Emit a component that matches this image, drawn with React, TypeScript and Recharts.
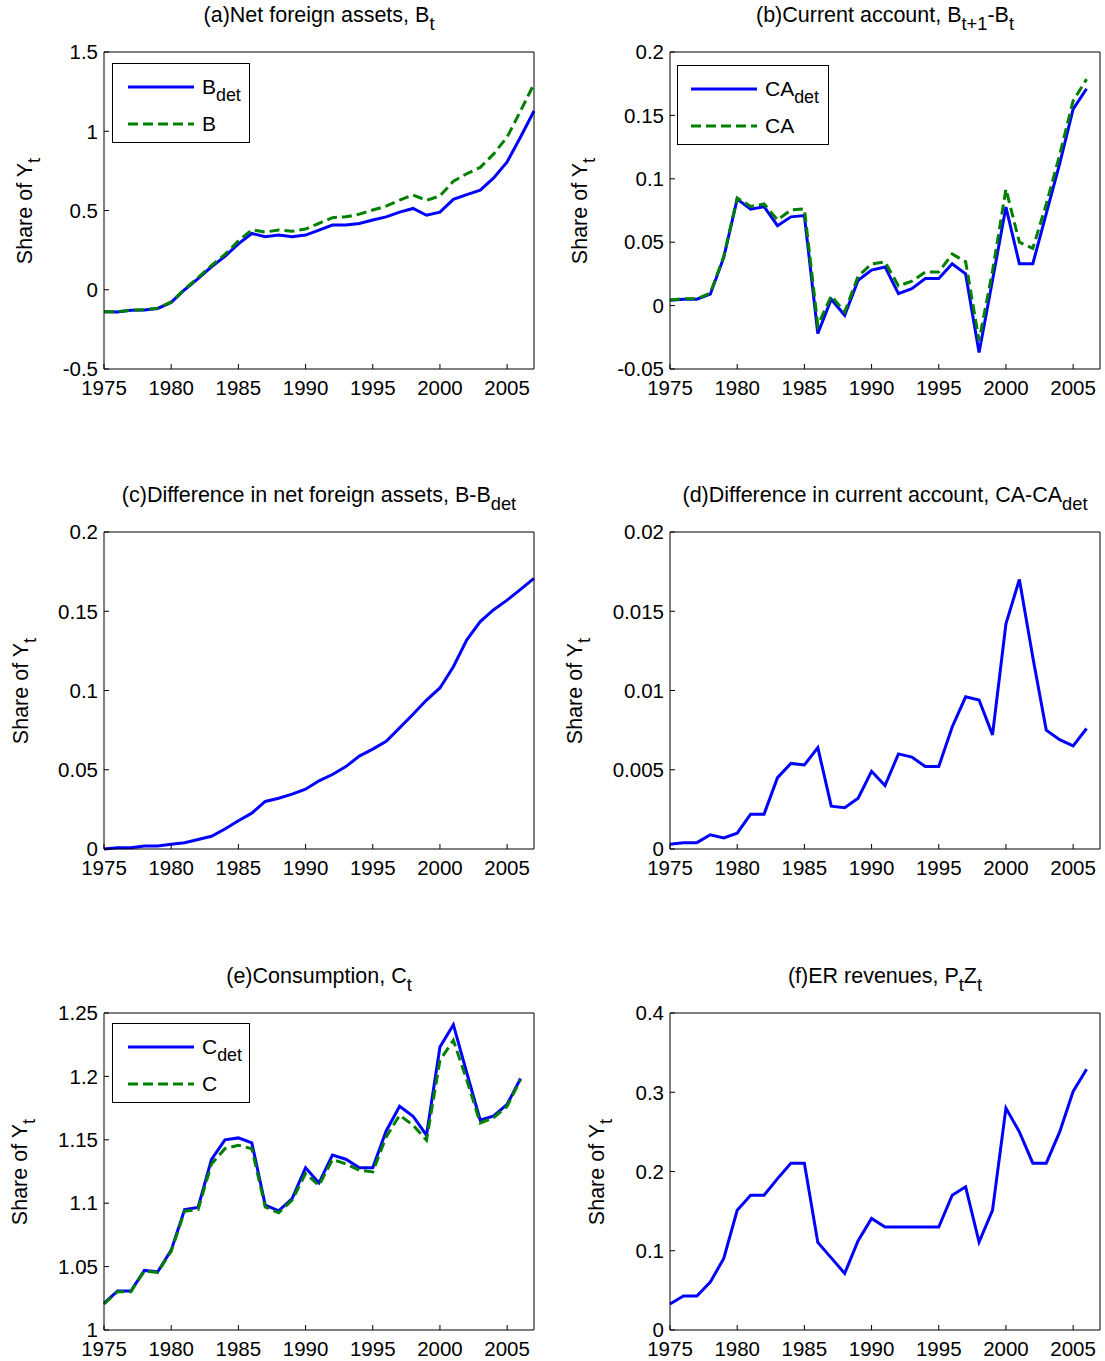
import React from "react"
import { LineChart, Line, XAxis, YAxis } from "recharts"

const FONT = "Arial, 'Liberation Sans', Helvetica, sans-serif"
const BLUE = "#0000ff"
const GREEN = "#008000"
const DASH = "10 5"

const YEARS = [
    1975, 1976, 1977, 1978, 1979, 1980, 1981, 1982, 1983, 1984, 1985,
    1986, 1987, 1988, 1989, 1990, 1991, 1992, 1993, 1994, 1995, 1996,
    1997, 1998, 1999, 2000, 2001, 2002, 2003, 2004, 2005, 2006, 2007,
]
const X_TICKS = [1975, 1980, 1985, 1990, 1995, 2000, 2005]

// (a) net foreign assets
const B_DET = [
    -0.139, -0.14, -0.13, -0.128, -0.118, -0.08, 0.0, 0.07, 0.145, 0.21, 0.29,
    0.355, 0.334, 0.345, 0.334, 0.345, 0.376, 0.408, 0.408, 0.418, 0.44, 0.46,
    0.49, 0.513, 0.47, 0.49, 0.57, 0.6, 0.628, 0.706, 0.807, 0.964, 1.128,
]
const B = [
    -0.139, -0.139, -0.129, -0.126, -0.116, -0.077, 0.004, 0.076, 0.153, 0.223, 0.308,
    0.378, 0.364, 0.377, 0.369, 0.383, 0.419, 0.455, 0.46, 0.477, 0.503, 0.528,
    0.566, 0.598, 0.564, 0.592, 0.685, 0.732, 0.772, 0.857, 0.964, 1.128, 1.299,
]

// (b) current account
const CA_DET = [
    0.0042, 0.005, 0.005, 0.009, 0.038, 0.084, 0.076, 0.078, 0.063, 0.07, 0.071,
    -0.022, 0.005, -0.0076, 0.02, 0.028, 0.0305, 0.0095, 0.0134, 0.0213, 0.0213,
    0.033, 0.025, -0.037, 0.02, 0.0777, 0.033, 0.033, 0.0725, 0.112, 0.155, 0.171,
]
const CA = [
    0.0045, 0.0054, 0.0054, 0.0099, 0.0387, 0.085, 0.0782, 0.0802, 0.0675, 0.0754, 0.0763,
    -0.0156, 0.0077, -0.005, 0.0232, 0.0329, 0.0345, 0.0155, 0.0192, 0.0265, 0.0265,
    0.0407, 0.0346, -0.0276, 0.0272, 0.0919, 0.05, 0.0451, 0.08, 0.1189, 0.1615, 0.1786,
]

// (c) B - B_det
const B_DIFF = [
    0, 0.0008, 0.0008, 0.0019, 0.0019, 0.003, 0.004, 0.006, 0.008, 0.0126, 0.0178,
    0.0226, 0.03, 0.032, 0.0346, 0.0377, 0.043, 0.047, 0.052, 0.0586, 0.063, 0.068,
    0.0764, 0.085, 0.094, 0.1016, 0.115, 0.132, 0.1435, 0.151, 0.157, 0.1638, 0.1707,
]

// (d) CA - CA_det
const CA_DIFF = [
    0.0003, 0.0004, 0.0004, 0.0009, 0.0007, 0.001, 0.0022, 0.0022, 0.0045, 0.0054, 0.0053,
    0.0064, 0.0027, 0.0026, 0.0032, 0.0049, 0.004, 0.006, 0.0058, 0.0052, 0.0052,
    0.0077, 0.0096, 0.0094, 0.0072, 0.0142, 0.017, 0.0121, 0.0075, 0.0069, 0.0065, 0.0076,
]

// (e) consumption
const C_DET = [
    1.021, 1.0307, 1.0307, 1.047, 1.046, 1.063, 1.095, 1.0966, 1.1345, 1.15, 1.1515,
    1.1476, 1.0985, 1.094, 1.1037, 1.128, 1.116, 1.138, 1.1347, 1.128, 1.128,
    1.157, 1.1765, 1.1686, 1.1536, 1.2232, 1.2408, 1.2027, 1.1654, 1.1689, 1.178, 1.1983,
]
const C = [
    1.0205, 1.0302, 1.0302, 1.0465, 1.0455, 1.062, 1.0937, 1.095, 1.131, 1.143, 1.1457,
    1.143, 1.097, 1.0924, 1.1024, 1.1234, 1.114, 1.1345, 1.131, 1.126, 1.1247,
    1.1523, 1.1694, 1.1615, 1.1497, 1.2127, 1.2285, 1.197, 1.1633, 1.1675, 1.1765, 1.1975,
]

// (f) ER revenues
const PZ = [
    0.0328, 0.043, 0.043, 0.0605, 0.0903, 0.151, 0.17, 0.17, 0.191, 0.2105, 0.2105,
    0.1105, 0.091, 0.0714, 0.1126, 0.1408, 0.13, 0.13, 0.13, 0.13, 0.13,
    0.17, 0.1807, 0.111, 0.151, 0.28, 0.25, 0.2105, 0.2105, 0.25, 0.301, 0.329,
]

const CHART_H = 400
const TOP_H = 52
const BOTTOM_H = 31
const PLOT_W = 430
const PLOT_H = CHART_H - TOP_H - BOTTOM_H

const LABEL_SIZE = 21.5
const TICK_SIZE = 20.5

const Sub = ({ children }: { children: React.ReactNode }) => (
    <span style={{ fontSize: "0.85em", position: "relative", top: "0.42em" }}>{children}</span>
)

type Series = { key: string; values: number[]; color: string; dash?: string; label?: React.ReactNode }
type LegendBox = { x: number; y: number; w: number; h: number; lineX: number; textX: number }
type PanelDef = {
    left: number
    top: number
    width: number
    axisW: number
    yDomain: [number, number]
    yTicks: number[]
    title: React.ReactNode
    yLabelX: number
    series: Series[]
    legend?: LegendBox
}

const LEFT_COL = { left: 0, width: 552, axisW: 104 }
const RIGHT_COL = { left: 552, width: 553, axisW: 118 }

const PANELS: PanelDef[] = [
    {
        ...LEFT_COL, top: 0,
        yDomain: [-0.5, 1.5], yTicks: [-0.5, 0, 0.5, 1, 1.5],
        title: <>(a)Net foreign assets, B<Sub>t</Sub></>,
        yLabelX: 25,
        series: [
            { key: "bDet", values: B_DET, color: BLUE, label: <>B<Sub>det</Sub></> },
            { key: "b", values: B, color: GREEN, dash: DASH, label: "B" },
        ],
        legend: { x: 112, y: 63, w: 138, h: 80, lineX: 15, textX: 89 },
    },
    {
        ...RIGHT_COL, top: 0,
        yDomain: [-0.05, 0.2], yTicks: [-0.05, 0, 0.05, 0.1, 0.15, 0.2],
        title: <>(b)Current account, B<Sub>t+1</Sub>-B<Sub>t</Sub></>,
        yLabelX: 580,
        series: [
            { key: "caDet", values: CA_DET, color: BLUE, label: <>CA<Sub>det</Sub></> },
            { key: "ca", values: CA, color: GREEN, dash: DASH, label: "CA" },
        ],
        legend: { x: 677, y: 65, w: 152, h: 80, lineX: 13, textX: 87 },
    },
    {
        ...LEFT_COL, top: 480,
        yDomain: [0, 0.2], yTicks: [0, 0.05, 0.1, 0.15, 0.2],
        title: <>(c)Difference in net foreign assets, B-B<Sub>det</Sub></>,
        yLabelX: 21,
        series: [{ key: "bDiff", values: B_DIFF, color: BLUE }],
    },
    {
        ...RIGHT_COL, top: 480,
        yDomain: [0, 0.02], yTicks: [0, 0.005, 0.01, 0.015, 0.02],
        title: <>(d)Difference in current account, CA-CA<Sub>det</Sub></>,
        yLabelX: 575,
        series: [{ key: "caDiff", values: CA_DIFF, color: BLUE }],
    },
    {
        ...LEFT_COL, top: 961,
        yDomain: [1, 1.25], yTicks: [1, 1.05, 1.1, 1.15, 1.2, 1.25],
        title: <>(e)Consumption, C<Sub>t</Sub></>,
        yLabelX: 20,
        series: [
            { key: "cDet", values: C_DET, color: BLUE, label: <>C<Sub>det</Sub></> },
            { key: "c", values: C, color: GREEN, dash: DASH, label: "C" },
        ],
        legend: { x: 112, y: 1023, w: 138, h: 80, lineX: 15, textX: 89 },
    },
    {
        ...RIGHT_COL, top: 961,
        yDomain: [0, 0.4], yTicks: [0, 0.1, 0.2, 0.3, 0.4],
        title: <>(f)ER revenues, P<Sub>t</Sub>Z<Sub>t</Sub></>,
        yLabelX: 597,
        series: [{ key: "pz", values: PZ, color: BLUE }],
    },
]

const tickStyle = { fill: "#000", fontSize: TICK_SIZE }

function Legend({ box, series }: { box: LegendBox; series: Series[] }) {
    return (
        <div
            style={{
                position: "absolute", left: box.x, top: box.y, width: box.w, height: box.h,
                boxSizing: "border-box", border: "1px solid #000", background: "#fff",
            }}
        >
            {series.map((s, i) => (
                <div key={s.key} style={{ position: "absolute", left: 0, top: 23 + i * 37 - 12, height: 24, width: "100%" }}>
                    <svg width={66} height={24} style={{ position: "absolute", left: box.lineX, top: 0 }}>
                        <line x1={0} x2={66} y1={12} y2={12} stroke={s.color} strokeWidth={3} strokeDasharray={s.dash} />
                    </svg>
                    <div style={{ position: "absolute", left: box.textX, top: 0, lineHeight: "24px", fontSize: 21, whiteSpace: "nowrap" }}>
                        {s.label}
                    </div>
                </div>
            ))}
        </div>
    )
}

function Panel({ p }: { p: PanelDef }) {
    const len = Math.max(...p.series.map(s => s.values.length))
    const rows = YEARS.slice(0, len).map((year, i) => {
        const row: Record<string, number> = { year }
        p.series.forEach(s => { row[s.key] = s.values[i] })
        return row
    })
    const rightW = p.width - p.axisW - PLOT_W
    const plotCx = p.left + p.axisW + PLOT_W / 2

    return (
        <>
            <div style={{ position: "absolute", left: p.left, top: p.top, width: p.width, height: CHART_H }}>
                <LineChart width={p.width} height={CHART_H} data={rows} margin={{ top: 0, right: 0, bottom: 0, left: 0 }}>
                    <XAxis
                        xAxisId="b" dataKey="year" type="number" domain={[1975, 2007]} ticks={X_TICKS}
                        interval={0} height={BOTTOM_H} stroke="#000" tickSize={-5} tickMargin={16} tick={tickStyle}
                    />
                    <XAxis
                        xAxisId="t" orientation="top" dataKey="year" type="number" domain={[1975, 2007]} ticks={X_TICKS}
                        interval={0} height={TOP_H} stroke="#000" tickSize={-5} tick={false}
                    />
                    <YAxis
                        yAxisId="l" type="number" domain={p.yDomain} ticks={p.yTicks} interval={0}
                        width={p.axisW} stroke="#000" tickSize={-5} tickMargin={11} tick={tickStyle}
                        tickFormatter={(v: number) => String(v)}
                    />
                    <YAxis
                        yAxisId="r" orientation="right" type="number" domain={p.yDomain} ticks={p.yTicks} interval={0}
                        width={rightW} stroke="#000" tickSize={-5} tick={false}
                    />
                    {p.series.map(s => (
                        <Line
                            key={s.key} xAxisId="b" yAxisId="l" dataKey={s.key} type="linear"
                            stroke={s.color} strokeWidth={3} strokeDasharray={s.dash}
                            dot={false} activeDot={false} isAnimationActive={false}
                        />
                    ))}
                </LineChart>
            </div>
            <div
                style={{
                    position: "absolute", left: plotCx, top: p.top + 3, transform: "translateX(-50%)",
                    fontSize: LABEL_SIZE, lineHeight: "25px", whiteSpace: "nowrap",
                }}
            >
                {p.title}
            </div>
            <div
                style={{
                    position: "absolute", left: p.yLabelX, top: p.top + TOP_H + PLOT_H / 2,
                    transform: "translate(-50%, -50%) rotate(-90deg)",
                    fontSize: LABEL_SIZE, lineHeight: "25px", whiteSpace: "nowrap",
                }}
            >
                Share of Y<Sub>t</Sub>
            </div>
            {p.legend && <Legend box={p.legend} series={p.series} />}
        </>
    )
}

export default function App() {
    return (
        <div
            style={{
                position: "absolute", left: 0, top: 0, width: 1105, height: 1361,
                background: "#fff", fontFamily: FONT, color: "#000", overflow: "hidden",
            }}
        >
            {PANELS.map((p, i) => <Panel key={i} p={p} />)}
        </div>
    )
}
